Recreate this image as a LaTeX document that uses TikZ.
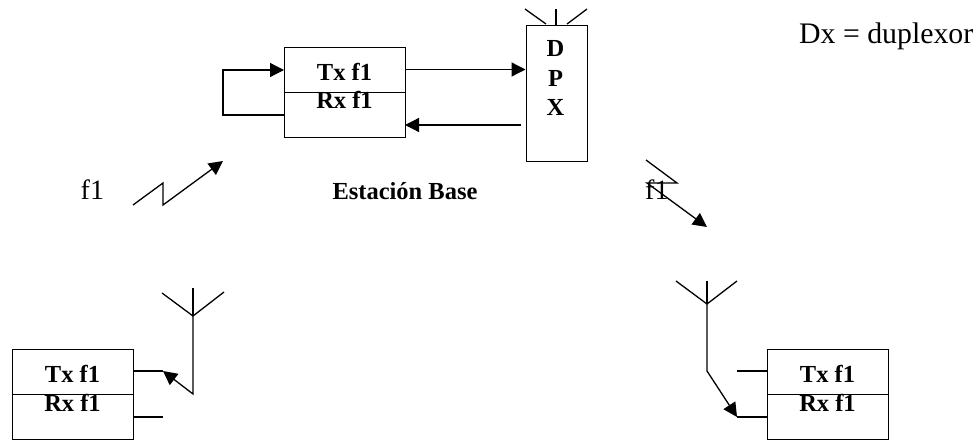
\documentclass[tikz,border=0pt]{standalone}
\usepackage{fontspec}
\setmainfont{Liberation Serif}
\usetikzlibrary{arrows.meta}
\tikzset{
  x=1pt,y=-1pt,
  ln/.style={line width=1.3pt,black},
  arr/.style={ln,-{Triangle[length=14pt,width=14pt]}},
  lbl/.style={font=\fontsize{24.5}{24.5}\selectfont\bfseries,inner sep=0pt,anchor=base},
  txt/.style={font=\fontsize{28}{28}\selectfont,inner sep=0pt,anchor=base west},
  half/.style={draw,line width=1.3pt,inner sep=0pt,minimum width=121pt,minimum height=45pt,anchor=north west}
}
\begin{document}
\begin{tikzpicture}
\useasboundingbox (0,0) rectangle (977,441);
% base station
\node[half] (bt) at (284,47) {};
\node[half] (br) at (284,92) {};
\node[draw,line width=1.3pt,inner sep=0pt,minimum width=61pt,minimum height=136pt,anchor=north west] (dpx) at (525.5,25) {};
\node[lbl] (ta) at (344.5,81) {Tx f1};
\node[lbl] (ra) at (344.5,109) {Rx f1};
\node[lbl] (d) at (555.5,57) {D};
\node[lbl] (p) at (555.5,87) {P};
\node[lbl] (xx) at (555.5,116) {X};
\coordinate (bl) at (284,115);
\coordinate (lc1) at (223,115);
\coordinate (lc2) at (223,70);
\coordinate (bi) at (284,70);
\draw[arr] (bl) -- (lc1) -- (lc2) -- (bi);
\coordinate (bo) at (405,69.5);
\coordinate (di) at (525.5,69.5);
\draw[arr] (bo) -- (di);
\coordinate (do) at (521,125);
\coordinate (bri) at (405,125);
\draw[arr] (do) -- (bri);
\coordinate (a0) at (556,25);
\coordinate (a1) at (556,9);
\coordinate (a2) at (525,9);
\coordinate (a3) at (546,24);
\coordinate (a4) at (587,9);
\coordinate (a5) at (567,24);
\draw[ln] (a0) -- (a1);
\draw[ln] (a2) -- (a3);
\draw[ln] (a4) -- (a5);
% labels
\node[font=\fontsize{29.8}{29.8}\selectfont,inner sep=0pt,anchor=base west] (dx) at (799,44) {Dx = duplexor};
\node[txt] (f1l) at (80.5,199) {f1};
\node[txt] (f1r) at (645,199) {f1};
\node[lbl] (eb) at (405,199) {Estación Base};
% zigzags
\coordinate (z1) at (133,205);
\coordinate (z2) at (163,183);
\coordinate (z3) at (163,205);
\coordinate (z4) at (223,161);
\draw[arr] (z1) -- (z2) -- (z3) -- (z4);
\coordinate (y1) at (646,160);
\coordinate (y2) at (677,183);
\coordinate (y3) at (647,183);
\coordinate (y4) at (707,227);
\draw[arr] (y1) -- (y2) -- (y3) -- (y4);
% left mobile
\node[half] (lt) at (12,349) {};
\node[half] (lr) at (12,394) {};
\node[lbl] (lta) at (72.5,382) {Tx f1};
\node[lbl] (lra) at (72.5,411) {Rx f1};
\coordinate (ls1) at (163,371);
\coordinate (ls2) at (163,417);
\coordinate (la0) at (193,394);
\coordinate (laf) at (193,316);
\coordinate (lat) at (193,288);
\coordinate (lal) at (162,293);
\coordinate (lar) at (224,292);
\draw[ln] (133,371) -- (ls1);
\draw[ln] (133,417) -- (ls2);
\draw[ln] (lat) -- (laf);
\draw[ln] (lal) -- (laf) -- (lar);
\draw[arr] (laf) -- (la0) -- (ls1);
% right mobile
\node[half] (rt) at (767,349) {};
\node[half] (rr) at (767,394) {};
\node[lbl] (rta) at (827.5,382) {Tx f1};
\node[lbl] (rra) at (827.5,411) {Rx f1};
\coordinate (rs1) at (737,371);
\coordinate (rs2) at (737,417);
\coordinate (raf) at (707,304);
\coordinate (rat) at (707,281);
\coordinate (ral) at (676,281);
\coordinate (rar) at (737,281);
\coordinate (ra0) at (707,371);
\draw[ln] (rs1) -- (767,371);
\draw[ln] (rs2) -- (767,417);
\draw[ln] (rat) -- (raf);
\draw[ln] (ral) -- (raf) -- (rar);
\draw[arr] (raf) -- (ra0) -- (rs2);
\end{tikzpicture}
\end{document}
